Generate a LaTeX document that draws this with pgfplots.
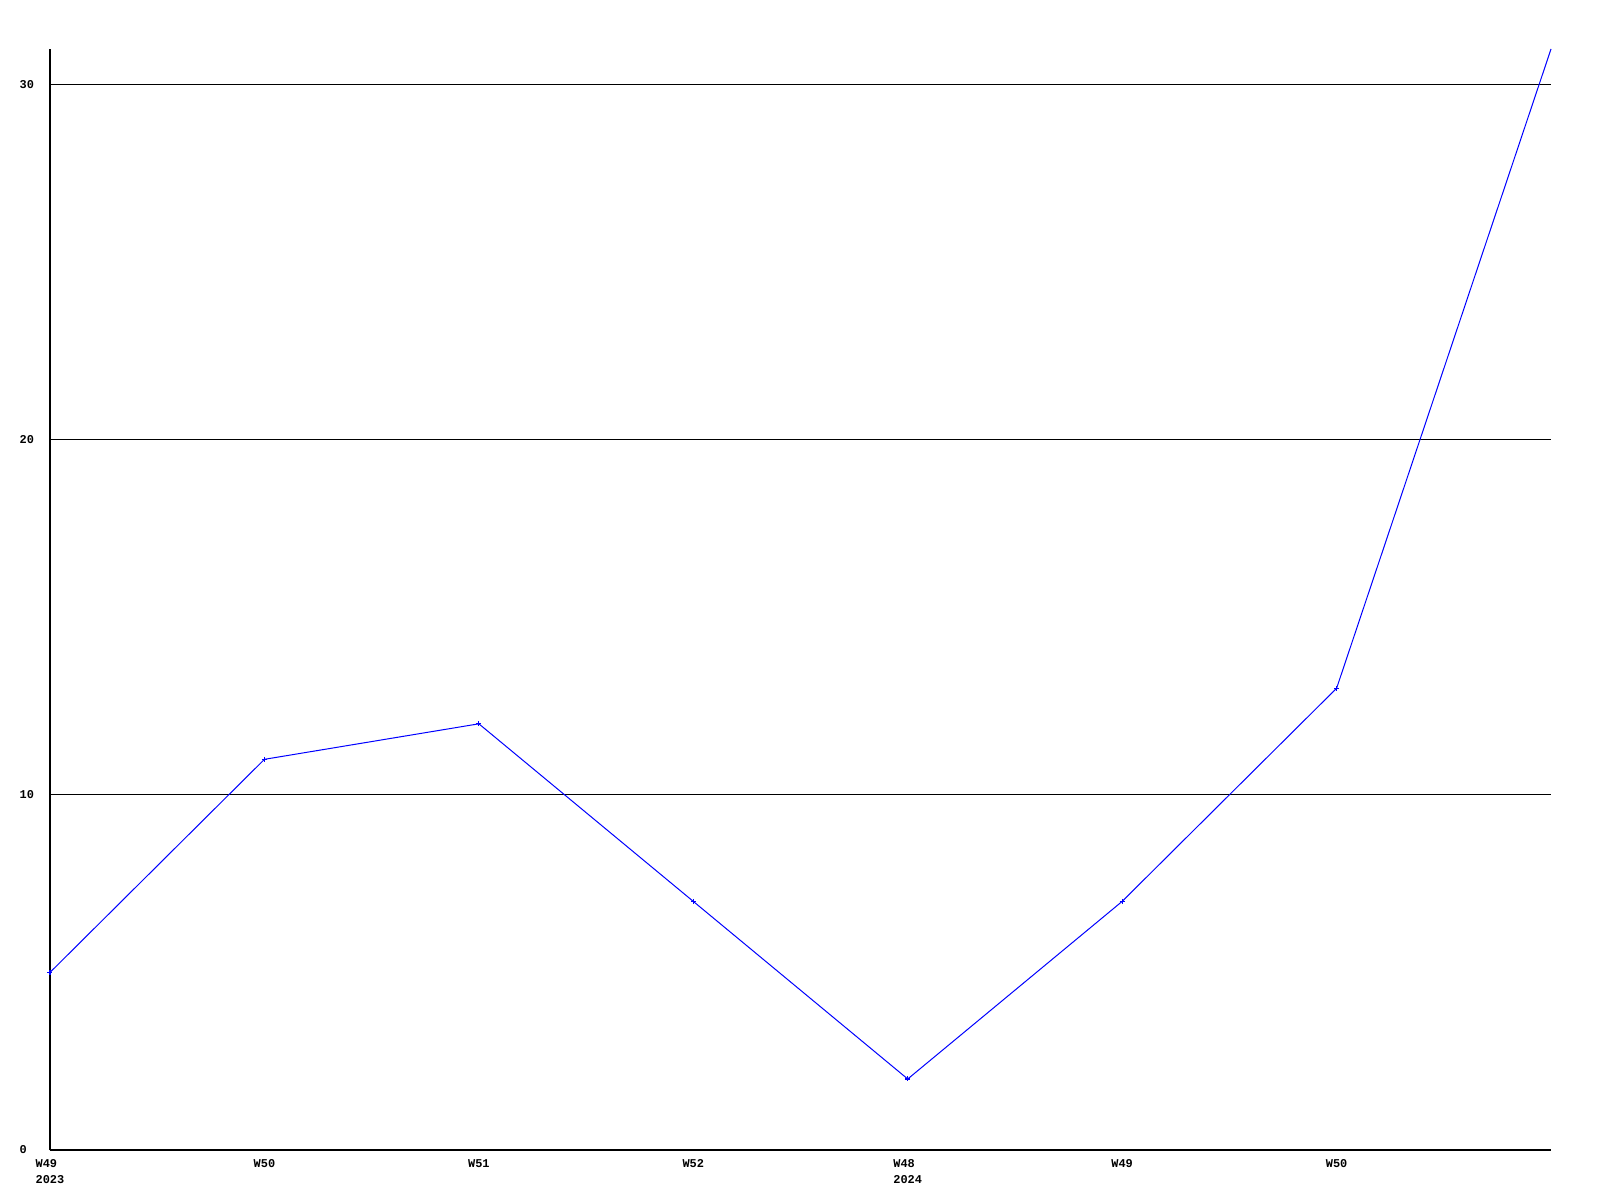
\documentclass[border=0pt]{standalone}
\usepackage{fontspec}
\setmainfont{Liberation Mono}
\usepackage{pgfplots}
\pgfplotsset{compat=1.18}
\begin{document}
\begin{tikzpicture}[x=1mm,y=1mm]
\useasboundingbox (0,0) rectangle (160,120);
\begin{axis}[
  at={(5mm,5mm)}, anchor=south west,
  scale only axis, width=150.1mm, height=110.1mm,
  xmin=0, xmax=7, ymin=0, ymax=31,
  axis x line=bottom, axis y line=left,
  axis line style={-, line width=0.12mm, black},
  major tick length=0,
  xtick={0,1,2,3,4,5,6},
  xticklabels={{W49\\2023},W50,W51,W52,{W48\\2024},W49,W50},
  ytick={0,10,20,30},
  ymajorgrids, grid style={black, line width=0.1mm},
  /pgf/number format/assume math mode=true,
  ticklabel style={font=\fontsize{3.4}{4.6}\selectfont\bfseries},
  xticklabel style={align=left, anchor=north, yshift=0.3mm},
  yticklabel style={anchor=west, xshift=-4.28mm},
  clip=false,
]
\addplot[blue, line width=0.1mm, mark=+, mark size=0.25mm, mark options={line width=0.12mm}]
coordinates {(0,5) (1,11) (2,12) (3,7) (4,2) (5,7) (6,13)};
\addplot[blue, line width=0.1mm] coordinates {(6,13) (7,31)};
\end{axis}
\end{tikzpicture}
\end{document}
